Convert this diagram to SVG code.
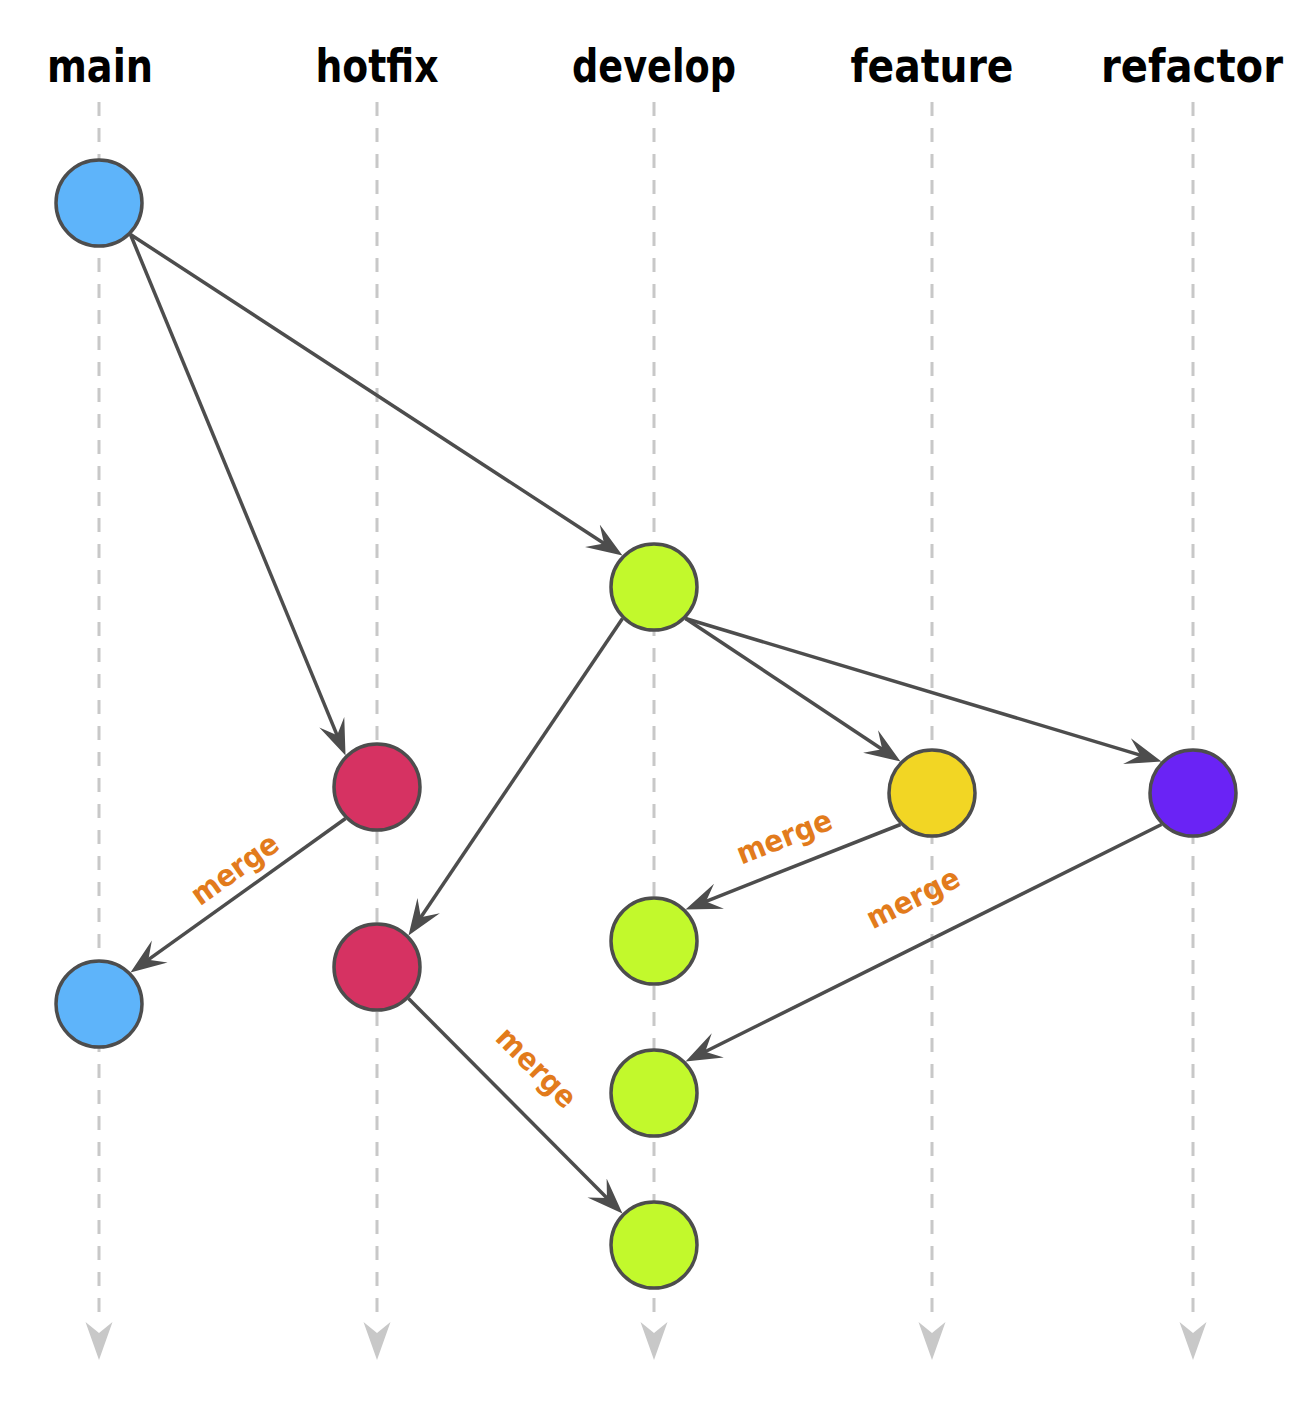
<svg xmlns="http://www.w3.org/2000/svg" width="1314" height="1422" viewBox="0 0 1314 1422">
<style>
.lane{stroke:#c8c8c8;stroke-width:3;stroke-dasharray:14 12;fill:none}
.lanehead{fill:#c8c8c8}
.hdr{font-family:"DejaVu Sans Condensed","DejaVu Sans","Liberation Sans",sans-serif;font-stretch:condensed;font-weight:bold;font-size:47px;fill:#000;text-anchor:middle}
.node{stroke:#4d4d4d;stroke-width:3.5}
.edge{stroke:#4d4d4d;stroke-width:3.5;fill:none;marker-end:url(#ah)}
.lbl{font-family:"DejaVu Sans","Liberation Sans",sans-serif;font-weight:bold;font-size:30px;fill:#e27b1c;text-anchor:middle}
.blue{fill:#5eb4fa}.green{fill:#c2f92c}.red{fill:#d63262}.yellow{fill:#f2d624}.purple{fill:#6a23f5}
</style>
<defs>
<marker id="ah" markerUnits="userSpaceOnUse" viewBox="0 -14 37 28" markerWidth="37" markerHeight="28" refX="26" refY="0" orient="auto">
<path d="M0,-13.5 L36,0 L0,13.5 L14,0 z" fill="#4d4d4d"/>
</marker>
</defs>
<g id="lanes">
<g id="lane-main"><text class="hdr" x="100" y="82" textLength="106" lengthAdjust="spacingAndGlyphs">main</text><line class="lane" x1="99" y1="102" x2="99" y2="1322"/><path class="lanehead" d="M85.5,1322 L99,1333 L112.5,1322 L99,1360 z"/></g>
<g id="lane-hotfix"><text class="hdr" x="377" y="82" textLength="123" lengthAdjust="spacingAndGlyphs">hotfix</text><line class="lane" x1="377" y1="102" x2="377" y2="1322"/><path class="lanehead" d="M363.5,1322 L377,1333 L390.5,1322 L377,1360 z"/></g>
<g id="lane-develop"><text class="hdr" x="654" y="82" textLength="164" lengthAdjust="spacingAndGlyphs">develop</text><line class="lane" x1="654" y1="102" x2="654" y2="1322"/><path class="lanehead" d="M640.5,1322 L654,1333 L667.5,1322 L654,1360 z"/></g>
<g id="lane-feature"><text class="hdr" x="932" y="82" textLength="163" lengthAdjust="spacingAndGlyphs">feature</text><line class="lane" x1="932" y1="102" x2="932" y2="1322"/><path class="lanehead" d="M918.5,1322 L932,1333 L945.5,1322 L932,1360 z"/></g>
<g id="lane-refactor"><text class="hdr" x="1192" y="82" textLength="182" lengthAdjust="spacingAndGlyphs">refactor</text><line class="lane" x1="1193" y1="102" x2="1193" y2="1322"/><path class="lanehead" d="M1179.5,1322 L1193,1333 L1206.5,1322 L1193,1360 z"/></g>
</g>
<g id="connectors">
<line class="edge" x1="130.5" y1="234.5" x2="614.1" y2="550.0"/>
<line class="edge" x1="130.5" y1="234.5" x2="341.7" y2="746.3"/>
<line class="edge" x1="622.5" y1="618.5" x2="414.1" y2="927.2"/>
<line class="edge" x1="685.5" y1="618.5" x2="892.2" y2="756.0"/>
<line class="edge" x1="685.5" y1="618.5" x2="1151.9" y2="758.6"/>
<line class="edge" x1="345.5" y1="818.5" x2="138.6" y2="966.7"/>
<line class="edge" x1="900.5" y1="824.5" x2="694.8" y2="905.8"/>
<line class="edge" x1="1161.5" y1="824.5" x2="694.5" y2="1057.0"/>
<line class="edge" x1="408.5" y1="998.5" x2="615.4" y2="1206.4"/>
<text class="lbl" transform="translate(236,871) rotate(-35.6)" x="0" y="8" textLength="100" lengthAdjust="spacingAndGlyphs">merge</text>
<text class="lbl" transform="translate(785,839) rotate(-21.6)" x="0" y="8" textLength="100" lengthAdjust="spacingAndGlyphs">merge</text>
<text class="lbl" transform="translate(914,900) rotate(-26.5)" x="0" y="8" textLength="100" lengthAdjust="spacingAndGlyphs">merge</text>
<text class="lbl" transform="translate(535,1069) rotate(45.1)" x="0" y="8" textLength="100" lengthAdjust="spacingAndGlyphs">merge</text>
</g>
<g id="main1"><circle class="node blue" cx="99" cy="203" r="43"/></g>
<g id="develop1"><circle class="node green" cx="654" cy="587" r="43"/></g>
<g id="hotfix1"><circle class="node red" cx="377" cy="787" r="43"/></g>
<g id="feature1"><circle class="node yellow" cx="932" cy="793" r="43"/></g>
<g id="refactor1"><circle class="node purple" cx="1193" cy="793" r="43"/></g>
<g id="main2"><circle class="node blue" cx="99" cy="1004" r="43"/></g>
<g id="hotfix2"><circle class="node red" cx="377" cy="967" r="43"/></g>
<g id="develop2"><circle class="node green" cx="654" cy="941" r="43"/></g>
<g id="develop3"><circle class="node green" cx="654" cy="1093" r="43"/></g>
<g id="develop4"><circle class="node green" cx="654" cy="1245" r="43"/></g>
</svg>
